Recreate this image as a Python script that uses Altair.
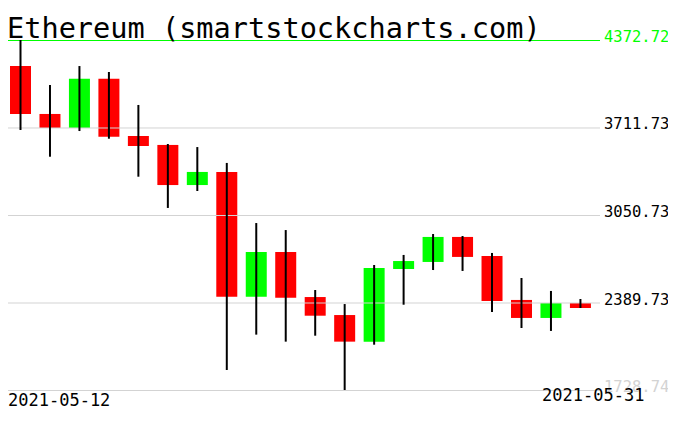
import altair as alt
import pandas as pd

title_text = "Ethereum (smartstockcharts.com)"

dates = ["2021-05-12", "2021-05-13", "2021-05-14", "2021-05-15", "2021-05-16",
         "2021-05-17", "2021-05-18", "2021-05-19", "2021-05-20", "2021-05-21",
         "2021-05-22", "2021-05-23", "2021-05-24", "2021-05-25", "2021-05-26",
         "2021-05-27", "2021-05-28", "2021-05-29", "2021-05-30", "2021-05-31"]
opens = [4176, 3814, 3708, 4080, 3647, 3580, 3277, 3376, 2434, 2771,
         2431, 2295, 2094, 2643, 2696, 2885, 2741, 2409, 2273, 2386]
highs = [4372.72, 4033, 4176, 4131, 3882, 3587, 3564, 3444, 2990, 2937,
         2484, 2378, 2673, 2749, 2907, 2892, 2764, 2575, 2477, 2416]
lows = [3693, 3491, 3685, 3627, 3340, 3104, 3232, 1880, 2147, 2094,
        2139, 1728.74, 2071, 2373, 2635, 2628, 2318, 2197, 2175, 2348]
closes = [3814, 3708, 4080, 3642, 3572, 3277, 3376, 2434, 2771, 2426,
          2290, 2094, 2650, 2703, 2885, 2734, 2401, 2273, 2386, 2348]

ticks = [4372.72, 3711.73, 3050.73, 2389.73, 1728.74]
tick_labels = ["4372.72", "3711.73", "3050.73", "2389.73", "1728.74"]

df = pd.DataFrame({"idx": list(range(len(dates))), "date": dates, "open": opens,
                   "high": highs, "low": lows, "close": closes})
tdf = pd.DataFrame({"v": ticks, "label": tick_labels})
ttl = pd.DataFrame({"t": [title_text]})

# layout (whole chart fits the 676x431 window with the 8px page margin)
W, H = 660, 405
step = 29.47
x0 = 12.5
xdom = [-x0 / step, (W - x0) / step]
top_px, bot_px = 32, 382
ppu = (bot_px - top_px) / (max(ticks) - min(ticks))
ydom = [min(ticks) - (H - bot_px) / ppu, max(ticks) + top_px / ppu]

xs = alt.Scale(domain=xdom, nice=False, zero=False, padding=0)
ys = alt.Scale(domain=ydom, nice=False, zero=False, padding=0)
X = alt.X("idx:Q", scale=xs, axis=None)
FONT = "DejaVu Sans Mono"

base = alt.Chart(df)

body = base.mark_bar(size=21).encode(
    x=X,
    y=alt.Y("open:Q", scale=ys, axis=None),
    y2="close:Q",
    color=alt.condition("datum.close >= datum.open", alt.value("#00ff00"), alt.value("#ff0000")),
)

wick = base.mark_rule(color="black", strokeWidth=2).encode(
    x=X,
    y=alt.Y("low:Q", scale=ys, axis=None),
    y2="high:Q",
)

tick_base = alt.Chart(tdf).transform_joinaggregate(
    vmax="max(v)", vmin="min(v)"
).transform_calculate(
    gkind="datum.v == datum.vmax ? 'gtop' : (datum.v == datum.vmin ? 'gbottom' : 'gmid')",
    lkind="datum.v == datum.vmax ? 'ltop' : (datum.v == datum.vmin ? 'lbottom' : 'lmid')",
)

grid = tick_base.mark_rule(strokeWidth=1, yOffset=0.5).encode(
    y=alt.Y("v:Q", scale=ys, axis=None),
    x=alt.value(0),
    x2=alt.value(592),
    color=alt.Color("gkind:N", scale=alt.Scale(domain=["gtop", "gmid", "gbottom"],
                                               range=["#00ff00", "#d3d3d3", "#d3d3d3"]), legend=None),
)

labels = tick_base.mark_text(align="left", baseline="alphabetic", dy=2, font=FONT, fontSize=15.5).encode(
    y=alt.Y("v:Q", scale=ys, axis=None),
    x=alt.value(596),
    text="label:N",
    color=alt.Color("lkind:N", scale=alt.Scale(domain=["ltop", "lmid", "lbottom"],
                                               range=["#00ff00", "#000000", "#d3d3d3"]), legend=None),
)

title = alt.Chart(ttl).mark_text(align="left", baseline="alphabetic", font=FONT, fontSize=28.6,
                                 color="black").encode(
    x=alt.value(-1), y=alt.value(29.7), text="t:N")

first_date = base.transform_filter("datum.idx == 0").mark_text(
    align="left", baseline="alphabetic", dx=-12.5, font=FONT, fontSize=17, color="black"
).encode(x=X, y=alt.value(398), text="date:N")

last_date = base.transform_filter("datum.idx == %d" % (len(dates) - 1)).mark_text(
    align="right", baseline="alphabetic", dx=64, font=FONT, fontSize=17, color="black"
).encode(x=X, y=alt.value(393), text="date:N")

chart = alt.layer(body, grid, wick, labels, title, first_date, last_date).resolve_scale(
    color="independent"
).properties(
    width=W, height=H, padding=0, autosize=alt.AutoSizeParams(type="none"),
    background="white",
).configure_view(stroke=None)

chart.save("out.html", embed_options={"renderer": "svg", "actions": False})
